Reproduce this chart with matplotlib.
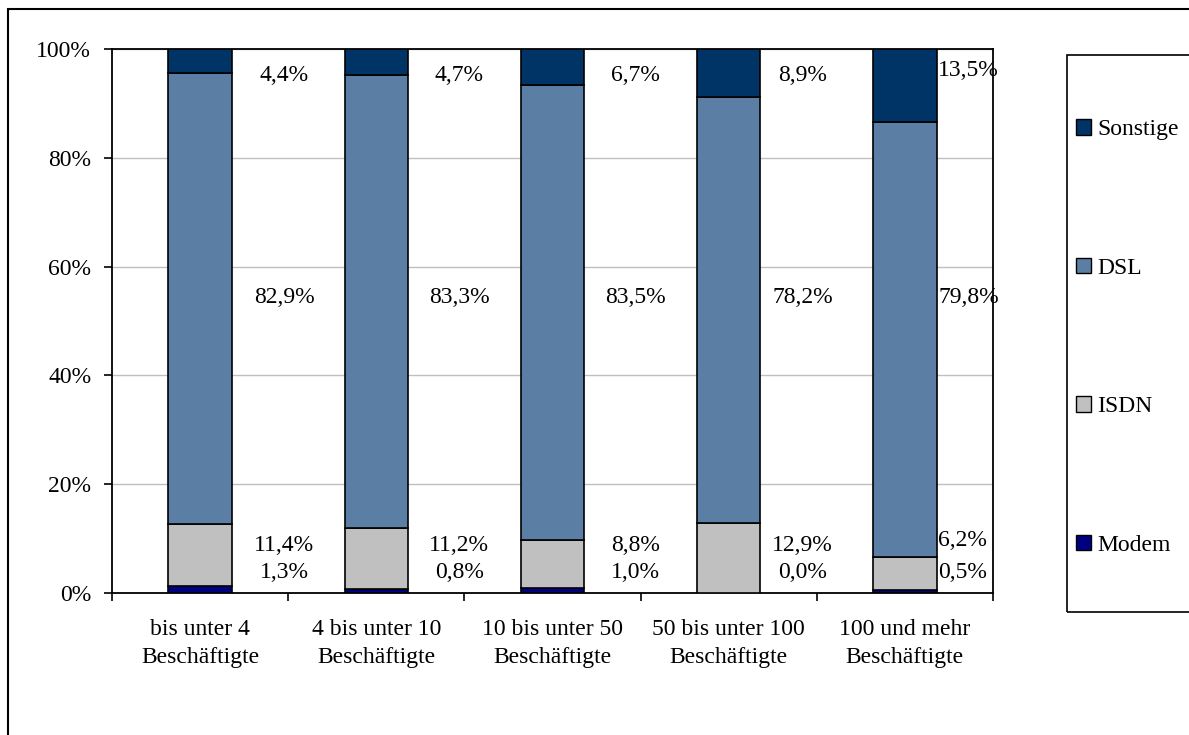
import matplotlib
matplotlib.use("Agg")
import matplotlib.pyplot as plt
from matplotlib.patches import Rectangle, Patch
import numpy as np

plt.rcParams['font.family'] = ['Liberation Serif', 'DejaVu Serif']

categories = ['bis unter 4\nBeschäftigte', '4 bis unter 10\nBeschäftigte',
              '10 bis unter 50\nBeschäftigte', '50 bis unter 100\nBeschäftigte',
              '100 und mehr\nBeschäftigte']
modem = [1.3, 0.8, 1.0, 0.0, 0.5]
isdn = [11.4, 11.2, 8.8, 12.9, 6.2]
dsl = [82.9, 83.3, 83.5, 78.2, 79.8]
sonstige = [4.4, 4.7, 6.7, 8.9, 13.5]
series_names = ['Modem', 'ISDN', 'DSL', 'Sonstige']

colors = ['#000080', '#C0C0C0', '#5B7FA4', '#003366']
# fixed label heights (like the text boxes in the original)
label_y = [3.7, 8.8, 54.4, 95.2]
label_dx = [0.477, 0.47, 0.47, 0.42, 0.19]
FS = 17

fig = plt.figure(figsize=(11.89, 7.35), dpi=100)
ax = fig.add_axes([112/1189, 142/735, 881/1189, 544/735])

x = np.arange(len(categories))
data = [modem, isdn, dsl, sonstige]
bottom = np.zeros(len(categories))
for vals, col, name in zip(data, colors, series_names):
    ax.bar(x, vals, 0.36, bottom=bottom, color=col, edgecolor='black', linewidth=1.2, label=name, zorder=3)
    bottom += np.array(vals)

def fmt(v):
    return f"{v:.1f}".replace('.', ',') + '%'

for si, vals in enumerate(data):
    for i, v in enumerate(vals):
        y = label_y[si]
        if i == len(categories) - 1 and si in (1, 3):
            y += 0.9
        if i == len(categories) - 1:
            ax.text(i + label_dx[i], y, fmt(v), ha='left', va='center', fontsize=FS, zorder=5)
        else:
            ax.text(i + label_dx[i], y, fmt(v), ha='center', va='center', fontsize=FS, zorder=5)

ax.set_xlim(-0.5, len(categories) - 0.5)
ax.set_ylim(0, 100)
ax.set_yticks([0, 20, 40, 60, 80, 100])
ax.set_yticklabels([f"{t}%" for t in range(0, 101, 20)], fontsize=FS)
ax.yaxis.grid(True, color='#C0C0C0', linewidth=1, zorder=0)
ax.set_axisbelow(True)
ax.set_xticks(x)
ax.set_xticklabels(categories, fontsize=FS, linespacing=1.42)
ax.set_xticks(np.arange(-0.5, len(categories)), minor=True)
ax.tick_params(axis='x', which='major', length=0, pad=19)
ax.tick_params(axis='x', which='minor', length=6, width=1.2, direction='out')
ax.tick_params(axis='y', length=6, width=1.2, direction='out', pad=9)
for s in ax.spines.values():
    s.set_linewidth(1.3)

# outer chart frame
fig.add_artist(Rectangle((8/1189, -0.2), 1.2, 1.2 - 9/735, transform=fig.transFigure,
                         fill=False, edgecolor='black', linewidth=1.5, clip_on=False))
# legend frame
fig.add_artist(Rectangle((1067/1189, 123/735), 0.2, 557/735, transform=fig.transFigure,
                         fill=False, edgecolor='black', linewidth=1.2, clip_on=False))

handles = [Patch(facecolor=c, edgecolor='black', label=n) for c, n in zip(colors, series_names)][::-1]
fig.legend(handles=handles, loc='upper left', bbox_to_anchor=(1076/1189, 1 - 119/735),
           frameon=False, fontsize=FS, handlelength=0.65, handleheight=0.65,
           handletextpad=0.25, labelspacing=4.97, borderpad=0, borderaxespad=0)

fig.savefig('out.png', dpi=100)
